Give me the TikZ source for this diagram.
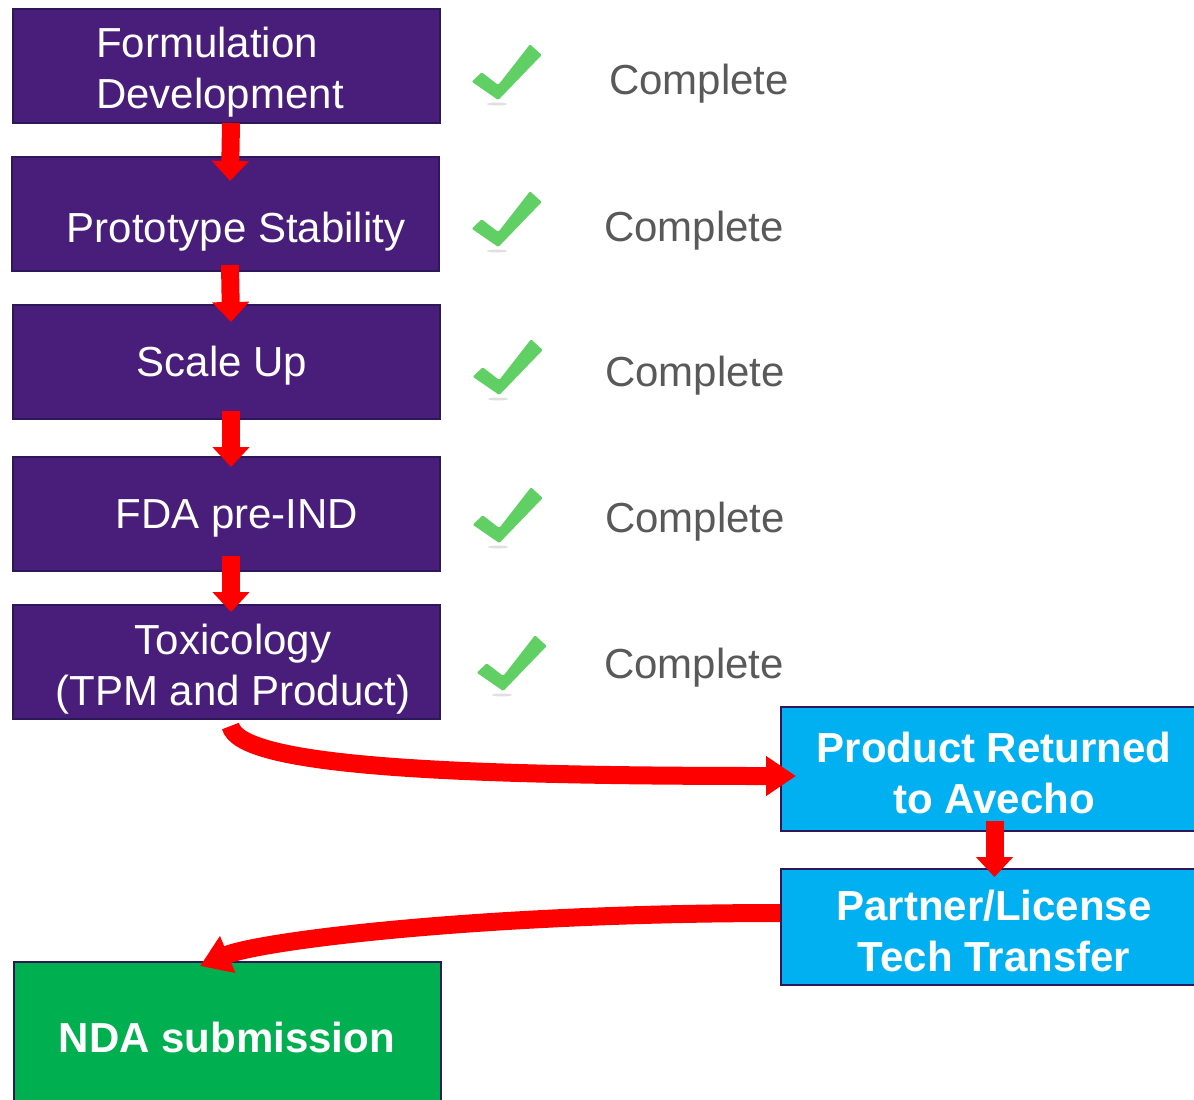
\documentclass[tikz,border=0pt]{standalone}
\usepackage{fontspec}
\setmainfont{Liberation Sans}
\usetikzlibrary{arrows.meta}
\definecolor{stage}{RGB}{72,30,122}
\definecolor{stageline}{RGB}{45,25,90}
\definecolor{handoff}{RGB}{0,176,240}
\definecolor{nda}{RGB}{0,176,80}
\definecolor{tick}{RGB}{96,208,100}
\definecolor{status}{RGB}{89,89,89}

\begin{document}
\begin{tikzpicture}[
    x=.5pt, y=-.5pt,
    box/.style={draw=stageline, line width=1pt, minimum width=213.5pt,
        minimum height=57pt, inner sep=0pt},
    stagebox/.style={box, fill=stage},
    handoffbox/.style={box, fill=handoff},
    boxtext/.style={text=white, font=\fontsize{21}{25.5}\selectfont,
        align=center, inner sep=0pt},
    boldtext/.style={boxtext, font=\fontsize{21}{25.5}\selectfont\bfseries},
    statustext/.style={text=status, font=\fontsize{21}{25.5}\selectfont,
        inner sep=0pt},
    flow/.style={draw=red, line width=9pt,
        -{Triangle[width=18pt, length=10pt]}},
    bigflow/.style={flow, -{Triangle[width=19pt, length=15pt]}},
]
    \useasboundingbox (0,0) rectangle (1194,1099);
    \clip (0,0) rectangle (1194,1099);

    %% the five development stages, top to bottom
    \node[stagebox] (p1) at (226.5, 66) {};
    \node[stagebox] (p2) at (225.5, 214) {};
    \node[stagebox] (p3) at (226.5, 362) {};
    \node[stagebox] (p4) at (226.5, 514) {};
    \node[stagebox] (p5) at (226.5, 662) {};
    \node[boxtext, align=left] (t1) at (220, 72) {Formulation\\Development};
    \node[boxtext] (t2) at (236, 232) {Prototype Stability};
    \node[boxtext] (t3) at (222, 366) {Scale Up};
    \node[boxtext] (t4) at (237, 518) {FDA pre-IND};
    \node[boxtext] (t5) at (233, 669) {Toxicology\\(TPM and Product)};

    %% what comes after, on the right, and the NDA at the bottom
    \node[handoffbox, minimum height=62pt] (r1) at (994.5, 769) {};
    \node[handoffbox, minimum height=58pt] (r2) at (994.5, 927) {};
    \node[box, fill=nda, minimum height=73pt] (n1) at (227.5, 1035) {};
    \node[boldtext] (s1) at (994, 773) {Product Returned\\to Avecho};
    \node[boldtext] (s2) at (994, 931) {Partner/License\\Tech Transfer};
    \node[boldtext] (s3) at (227, 1037) {NDA submission};

    %% red arrows down the stages
    \foreach \a/\b/\s/\e in {p1/p2/0.5/12.5, p2/p3/3.5/9, p3/p4/4.5/5.5,
            p4/p5/8/4}
        \draw[flow] ([xshift=2.25pt, yshift=\s pt]\a.south)
            -- ([xshift=2.25pt, yshift=-\e pt]\b.north);
    \draw[flow] ([yshift=5.5pt]r1.south) -- ([yshift=-4.5pt]r2.north);
    \draw[bigflow] ([xshift=2pt, yshift=-3pt]p5.south)
        .. controls +(9,40) and +(-350,0) .. ([xshift=8pt, yshift=-3.5pt]r1.west);
    \draw[bigflow] ([yshift=7pt]r2.west)
        .. controls +(-300,0) and +(60,-25) .. ([xshift=-13.75pt, yshift=-2.5pt]n1.north);

    %% the green ticks and their status
    \foreach \x/\y in {507/75, 507/222, 508/370, 508/518, 512/666}{
        \fill[black!12] (\x-10, \y+29) ellipse (10 and 1.5);
        \fill[tick, rounded corners=.6pt] (\x-35.3, \y+6.7) -- (\x-25.3, \y-2.7)
            -- (\x-8.7, \y+10) -- (\x+23, \y-30.7) -- (\x+34.7, \y-20)
            -- (\x-8.7, \y+25) -- cycle;
    }
    \foreach \n/\x/\y in {c1/699/84, c2/694/231, c3/695/376, c4/695/522,
            c5/694/668}
        \node[statustext] (\n) at (\x, \y) {Complete};
\end{tikzpicture}
\end{document}
